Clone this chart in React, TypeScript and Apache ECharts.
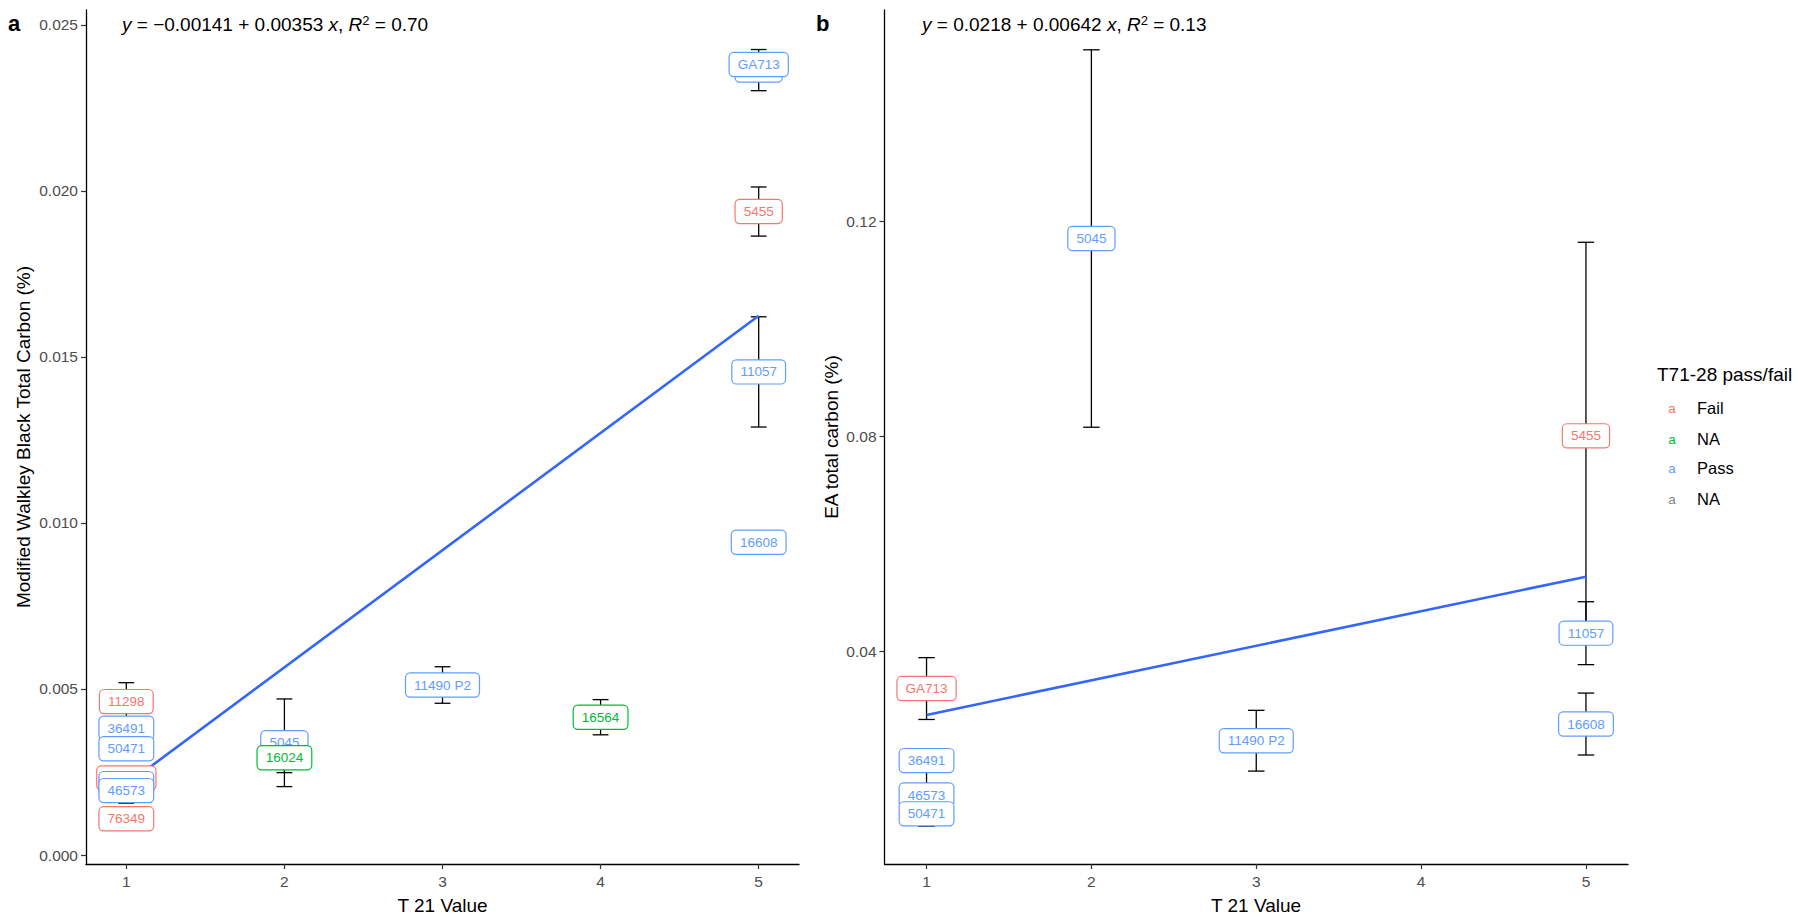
import React, { useEffect, useRef } from "react";
import * as echarts from "echarts";

const FONT = '"Liberation Sans", Arial, sans-serif';

const groupColors: Record<string, string> = {
  Fail: "#F8766D",
  NA: "#00BA38",
  Pass: "#619CFF",
};
const legendNames = ["Fail", "NA", "Pass", "NA"];
const legendColors = ["#F8766D", "#00BA38", "#619CFF", "#7F7F7F"];

// Panel a: Modified Walkley Black Total Carbon (%)
const aIds = ["GA713", "50471", "46573", "11298", "36491", "50471", "76349", "5045", "16024", "11490 P2", "16564", "5045", "GA713", "5455", "11057", "16608"];
const aT21 = [1, 1, 1, 1, 1, 1, 1, 2, 2, 3, 4, 5, 5, 5, 5, 5];
const aCarbon = [0.00232, 0.00215, 0.00194, 0.00462, 0.00382, 0.0032, 0.00109, 0.00338, 0.00293, 0.00512, 0.00415, 0.02364, 0.02381, 0.01938, 0.01455, 0.00942];
const aSd = [0.0003, 0.0003, 0.00038, 0.00057, 0.0003, 0.0003, 0.0002, 0.00132, 0.00045, 0.00055, 0.00053, 0.00062, 0.0002, 0.00074, 0.00166, 0.0002];
const aGroup = ["Fail", "Pass", "Pass", "Fail", "Pass", "Pass", "Fail", "Pass", "NA", "Pass", "NA", "Pass", "Pass", "Fail", "Pass", "Pass"];
const aFit = [[1, 0.00212], [5, 0.01624]];
const aYTicks = [0, 0.005, 0.01, 0.015, 0.02, 0.025];

// Panel b: EA total carbon (%)
const bIds = ["GA713", "36491", "46573", "50471", "5045", "11490 P2", "5455", "11057", "16608"];
const bT21 = [1, 1, 1, 1, 2, 3, 5, 5, 5];
const bCarbon = [0.0331, 0.0197, 0.0133, 0.0098, 0.1168, 0.0234, 0.0801, 0.0434, 0.0265];
const bSd = [0.00575, 0.001, 0.0058, 0.001, 0.0351, 0.00565, 0.036, 0.00585, 0.00576];
const bGroup = ["Fail", "Pass", "Pass", "Pass", "Pass", "Pass", "Fail", "Pass", "Pass"];
const bFit = [[1, 0.0282], [5, 0.0539]];
const bYTicks = [0.04, 0.08, 0.12];

const xTicks = [1, 2, 3, 4, 5];

function errorSeries(idx: number, xs: number[], ys: number[], sds: number[]) {
  return {
    type: "custom",
    xAxisIndex: idx,
    yAxisIndex: idx,
    z: 2,
    clip: false,
    data: xs.map((x, i) => [x, ys[i] - sds[i], ys[i] + sds[i]]),
    encode: { x: 0, y: [1, 2] },
    renderItem: (params: any, api: any) => {
      const x = api.value(0);
      const lo = api.value(1);
      const hi = api.value(2);
      const top = api.coord([x, hi]);
      const bot = api.coord([x, lo]);
      const l = api.coord([x - 0.05, hi])[0];
      const r = api.coord([x + 0.05, hi])[0];
      const st = { stroke: "#000", lineWidth: 1.3 };
      return {
        type: "group",
        children: [
          { type: "line", shape: { x1: top[0], y1: top[1], x2: bot[0], y2: bot[1] }, style: st },
          { type: "line", shape: { x1: l, y1: top[1], x2: r, y2: top[1] }, style: st },
          { type: "line", shape: { x1: l, y1: bot[1], x2: r, y2: bot[1] }, style: st },
        ],
      };
    },
  };
}

function labelSeries(idx: number, ids: string[], xs: number[], ys: number[], groups: string[]) {
  return {
    type: "custom",
    xAxisIndex: idx,
    yAxisIndex: idx,
    z: 4,
    clip: false,
    data: xs.map((x, i) => [x, ys[i]]),
    encode: { x: 0, y: 1 },
    renderItem: (params: any, api: any) => {
      const i = params.dataIndex;
      const p = api.coord([api.value(0), api.value(1)]);
      const c = groupColors[groups[i]];
      return {
        type: "text",
        x: p[0],
        y: p[1],
        style: {
          text: ids[i],
          fill: c,
          fontSize: 13.5,
          fontFamily: FONT,
          align: "center",
          verticalAlign: "middle",
          backgroundColor: "#fff",
          borderColor: c,
          borderWidth: 1.2,
          borderRadius: 4,
          padding: [5, 8, 4, 8],
        },
      };
    },
  };
}

function fitSeries(idx: number, pts: number[][]) {
  return {
    type: "line",
    xAxisIndex: idx,
    yAxisIndex: idx,
    z: 3,
    data: pts,
    showSymbol: false,
    symbol: "none",
    lineStyle: { color: "#3366FF", width: 2.6 },
  };
}

function xAxisOpt(idx: number) {
  return {
    type: "value",
    gridIndex: idx,
    min: 0.745,
    max: 5.255,
    axisLine: { onZero: false, lineStyle: { color: "#000", width: 1.3 } },
    axisTick: { customValues: xTicks, length: 5, lineStyle: { color: "#333", width: 1.2 } },
    axisLabel: { customValues: xTicks, color: "#4D4D4D", fontSize: 15.5, fontFamily: FONT, margin: 9 },
    splitLine: { show: false },
  };
}

function yAxisOpt(idx: number, min: number, max: number, ticks: number[], digits: number) {
  return {
    type: "value",
    gridIndex: idx,
    min,
    max,
    axisLine: { show: true, onZero: false, lineStyle: { color: "#000", width: 1.3 } },
    axisTick: { show: true, customValues: ticks, length: 5, lineStyle: { color: "#333", width: 1.2 } },
    axisLabel: {
      customValues: ticks,
      color: "#4D4D4D",
      fontSize: 15.5,
      fontFamily: FONT,
      margin: 8,
      formatter: (v: number) => v.toFixed(digits),
    },
    splitLine: { show: false },
  };
}

function eqText(x: number, body: string) {
  return {
    type: "text",
    left: x,
    top: 14,
    style: {
      text: body,
      fill: "#000",
      fontSize: 19,
      fontFamily: FONT,
      rich: {
        i: { fontStyle: "italic", fontSize: 19, fontFamily: FONT, fill: "#000" },
        sup: { fontSize: 13, fontFamily: FONT, fill: "#000", verticalAlign: "top", padding: [0, 0, 8, 0] },
      },
    },
  };
}

export default function App() {
  const ref = useRef<HTMLDivElement>(null);
  useEffect(() => {
    if (!ref.current) return;
    const chart = echarts.init(ref.current, null, { renderer: "svg" });
    const graphics: any[] = [
      { type: "text", left: 8, top: 12, style: { text: "a", fontSize: 22, fontWeight: "bold", fontFamily: FONT, fill: "#000" } },
      { type: "text", left: 816, top: 12, style: { text: "b", fontSize: 22, fontWeight: "bold", fontFamily: FONT, fill: "#000" } },
      eqText(122, "{i|y} = \u22120.00141 + 0.00353 {i|x}, {i|R}{sup|2} = 0.70"),
      eqText(922, "{i|y} = 0.0218 + 0.00642 {i|x}, {i|R}{sup|2} = 0.13"),
      {
        type: "text",
        x: 23,
        y: 437,
        rotation: Math.PI / 2,
        style: { text: "Modified Walkley Black Total Carbon (%)", fontSize: 19, fontFamily: FONT, fill: "#000", align: "center", verticalAlign: "middle" },
      },
      {
        type: "text",
        x: 831,
        y: 437,
        rotation: Math.PI / 2,
        style: { text: "EA total carbon (%)", fontSize: 19, fontFamily: FONT, fill: "#000", align: "center", verticalAlign: "middle" },
      },
      { type: "text", x: 442.5, y: 905, style: { text: "T 21 Value", fontSize: 19, fontFamily: FONT, fill: "#000", align: "center", verticalAlign: "middle" } },
      { type: "text", x: 1256, y: 905, style: { text: "T 21 Value", fontSize: 19, fontFamily: FONT, fill: "#000", align: "center", verticalAlign: "middle" } },
      { type: "text", x: 1657, y: 374, style: { text: "T71-28 pass/fail", fontSize: 19, fontFamily: FONT, fill: "#000", align: "left", verticalAlign: "middle" } },
    ];
    const legendY = [408, 439, 468, 499];
    legendNames.forEach((n, i) => {
      graphics.push({ type: "text", x: 1672, y: legendY[i], style: { text: "a", fontSize: 13.5, fontFamily: FONT, fill: legendColors[i], align: "center", verticalAlign: "middle" } });
      graphics.push({ type: "text", x: 1697, y: legendY[i], style: { text: n, fontSize: 16.5, fontFamily: FONT, fill: "#000", align: "left", verticalAlign: "middle" } });
    });

    chart.setOption({
      animation: false,
      backgroundColor: "#fff",
      textStyle: { fontFamily: FONT },
      grid: [
        { left: 86, top: 10, width: 713, height: 854 },
        { left: 884.5, top: 10, width: 743.5, height: 854 },
      ],
      xAxis: [xAxisOpt(0), xAxisOpt(1)],
      yAxis: [
        yAxisOpt(0, -0.000271, 0.02545, aYTicks, 3),
        yAxisOpt(1, 0.00047, 0.1593, bYTicks, 2),
      ],
      series: [
        errorSeries(0, aT21, aCarbon, aSd),
        fitSeries(0, aFit),
        labelSeries(0, aIds, aT21, aCarbon, aGroup),
        errorSeries(1, bT21, bCarbon, bSd),
        fitSeries(1, bFit),
        labelSeries(1, bIds, bT21, bCarbon, bGroup),
      ],
      graphic: graphics,
    });
    return () => chart.dispose();
  }, []);
  return (
    <div
      ref={ref}
      style={{ position: "absolute", left: 0, top: 0, width: 1798, height: 917, background: "#fff" }}
    />
  );
}
